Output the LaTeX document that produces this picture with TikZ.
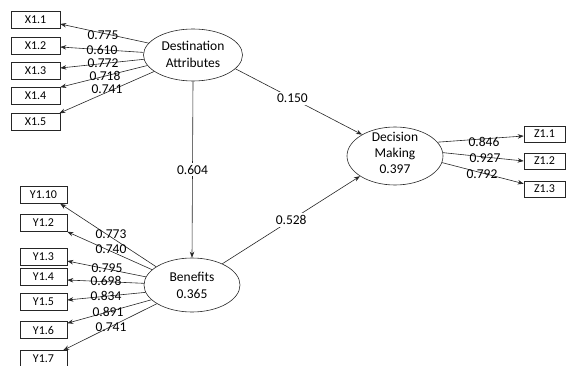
\documentclass[tikz,border=0pt]{standalone}
\usepackage{fontspec}
\setmainfont{Carlito}
\usetikzlibrary{arrows.meta,shapes.geometric}
\begin{document}
\begin{tikzpicture}[x=1pt,y=-1pt,
  lat/.style={ellipse,draw=black!85,line width=0.6pt,inner sep=0pt},
  lattext/.style={align=center,inner sep=0pt,font=\fontsize{13.5}{17}\selectfont},
  ind/.style={draw=black!85,line width=0.6pt,minimum width=49pt,minimum height=17pt,inner sep=0pt,font=\fontsize{12}{14}\selectfont},
  zind/.style={ind,minimum width=41pt,minimum height=16pt},
  lbl/.style={inner sep=0.5pt,font=\fontsize{13.5}{16}\selectfont},
  wlbl/.style={lbl,fill=white,inner sep=2pt},
  conn/.style={draw=black!85,line width=0.6pt,-{Stealth[length=6pt,width=4.5pt]}}
]
\useasboundingbox (0,0) rectangle (567,366);

% latent variables
\node[lat,minimum width=99pt,minimum height=52pt] (da) at (193,55) {};
\node[lattext] (dat) at (193,54) {Destination\\Attributes};
\node[lat,minimum width=96pt,minimum height=54pt] (ben) at (192,285) {};
\node[lattext] (bent) at (192,285.5) {Benefits\\0.365};
\node[lat,minimum width=96pt,minimum height=58pt] (dm) at (395,156) {};
\node[lattext,font=\fontsize{13.5}{16}\selectfont] (dmt) at (395,153) {Decision\\Making\\0.397};

% X indicators
\node[ind] (x1) at (35.5,20) {X1.1};
\node[ind] (x2) at (35.5,46) {X1.2};
\node[ind] (x3) at (35.5,71) {X1.3};
\node[ind] (x4) at (35.5,96) {X1.4};
\node[ind] (x5) at (35.5,122) {X1.5};

% Y indicators
\node[ind,minimum width=47pt] (y10) at (43.5,195) {Y1.10};
\node[ind,minimum width=47pt] (y2) at (43.5,223) {Y1.2};
\node[ind,minimum width=47pt] (y3) at (43.5,257) {Y1.3};
\node[ind,minimum width=47pt] (y4) at (43.5,277) {Y1.4};
\node[ind,minimum width=47pt] (y5) at (43.5,302) {Y1.5};
\node[ind,minimum width=47pt] (y6) at (43.5,330) {Y1.6};
\node[ind,minimum width=47pt] (y7) at (43.5,359) {Y1.7};

% Z indicators
\node[zind] (z1) at (544.5,134) {Z1.1};
\node[zind] (z2) at (544.5,161) {Z1.2};
\node[zind] (z3) at (544.5,189) {Z1.3};

% X loadings
\draw[conn] (da.165) -- ([yshift=-4pt]x1.east);
\draw[conn] (da.177) -- ([yshift=-1pt]x2.east);
\draw[conn] (da.185) -- ([yshift=3pt]x3.east);
\draw[conn] (da.193) -- (x4.north east);
\draw[conn] (da.203) -- ([xshift=-1pt]x5.north east);
\node[lbl] (l1) at (103,35) {0.775};
\node[lbl] (l2) at (102,49.5) {0.610};
\node[lbl] (l3) at (103,63) {0.772};
\node[lbl] (l4) at (105,76) {0.718};
\node[lbl] (l5) at (107,89) {0.741};

% Y loadings
\draw[conn] (ben.153) -- ([xshift=-7pt]y10.south east);
\draw[conn] (ben.159) -- (y2.south east);
\draw[conn] (ben.170) -- ([yshift=-4pt]y3.east);
\draw[conn] (ben.178) -- ([yshift=-3pt]y4.east);
\draw[conn] (ben.189) -- ([yshift=2pt]y5.east);
\draw[conn] (ben.200) -- ([yshift=-2pt]y6.north east);
\draw[conn] (ben.208) -- ([xshift=-4pt]y7.north east);
\node[lbl] (m1) at (111,234) {0.773};
\node[lbl] (m2) at (111,249) {0.740};
\node[lbl] (m3) at (107,268) {0.795};
\node[lbl] (m4) at (106,280.5) {0.698};
\node[lbl] (m5) at (106,296) {0.834};
\node[lbl] (m6) at (108,312) {0.891};
\node[lbl] (m7) at (111,327) {0.741};

% Z loadings
\draw[conn] (dm.18) -- ([yshift=-2pt]z1.west);
\draw[conn] (dm.4) -- (z2.west);
\draw[conn] (dm.-8) -- ([yshift=-3pt]z3.north west);
\node[lbl] (n1) at (484,142) {0.846};
\node[lbl] (n2) at (485,158) {0.927};
\node[lbl] (n3) at (482,174) {0.792};

% structural paths
\draw[conn] (da.south) -- node[wlbl] (p1) {0.604} (ben.north);
\draw[conn] (da.-18) -- node[wlbl,pos=0.45] (p2) {0.150} (dm.147);
\draw[conn] (ben.35) -- node[wlbl,pos=0.5] (p3) {0.528} (dm.210);
\end{tikzpicture}
\end{document}
